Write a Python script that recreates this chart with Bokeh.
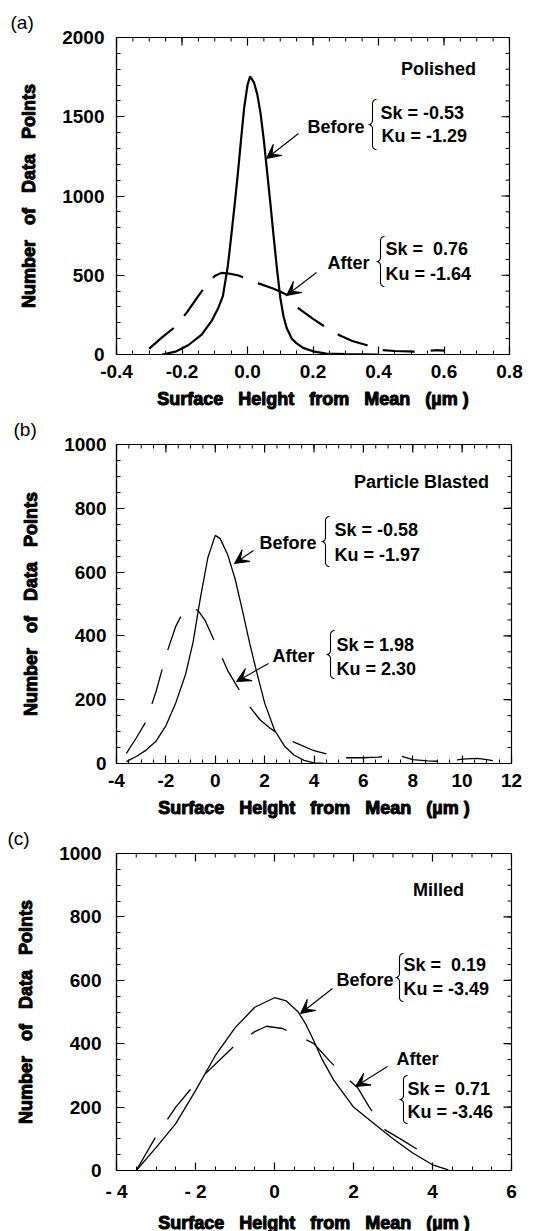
import numpy as np
from bokeh.plotting import figure
from bokeh.layouts import column
from bokeh.models import (Label, Arrow, VeeHead, SingleIntervalTicker,
                          PrintfTickFormatter, Range1d)
from bokeh.embed import file_html
from bokeh.resources import INLINE

# ---------------- data ----------------
# (a) Polished
A_X_BEFORE = [-0.26, -0.22, -0.18, -0.14, -0.11, -0.09, -0.075, -0.06, -0.05, -0.04, -0.03, -0.02,
              -0.01, 0.0, 0.008, 0.02, 0.03, 0.04, 0.05, 0.06, 0.07, 0.08, 0.09, 0.10, 0.11, 0.12,
              0.135, 0.15, 0.17, 0.20, 0.24, 0.30, 0.40]
A_Y_BEFORE = [0, 18, 60, 125, 210, 290, 370, 560, 740, 930, 1130, 1350,
              1560, 1700, 1755, 1715, 1640, 1520, 1350, 1150, 950, 740, 540, 360, 240, 165,
              100, 70, 42, 20, 6, 2, 0]
A_X_AFTER = [-0.30, -0.26, -0.22, -0.185, -0.15, -0.12, -0.10, -0.08, -0.06, -0.03, 0.0, 0.036,
             0.08, 0.117, 0.14, 0.157, 0.20, 0.233, 0.26, 0.284, 0.32, 0.365, 0.40, 0.45, 0.51,
             0.55, 0.575, 0.60]
A_Y_AFTER = [37, 110, 176, 266, 370, 455, 495, 515, 512, 500, 478, 447,
             415, 380, 330, 290, 225, 180, 145, 118, 85, 58, 30, 22, 18,
             22, 27, 25]

# (b) Particle Blasted
B_X_BEFORE = [-3.6, -3.2, -2.8, -2.4, -2.0, -1.6, -1.2, -0.9, -0.6, -0.3, 0.0, 0.2, 0.5, 0.8,
              1.1, 1.4, 1.7, 2.0, 2.4, 2.8, 3.2, 3.6, 4.0, 4.4]
B_Y_BEFORE = [6, 22, 42, 70, 118, 190, 280, 380, 520, 645, 715, 705, 655, 580,
              480, 375, 280, 190, 105, 55, 26, 10, 2, 0]
B_X_AFTER = [-3.6, -3.2, -2.8, -2.4, -2.0, -1.6, -1.3, -1.0, -0.7, -0.4, -0.1, 0.2, 0.5, 0.8,
             1.1, 1.4, 1.8, 2.2, 2.6, 3.0, 3.4, 4.0, 4.6, 5.3, 6.0, 6.6, 7.4, 8.0, 8.6, 9.4,
             10.0, 10.6, 11.0, 11.6]
B_Y_AFTER = [32, 80, 132, 225, 338, 430, 475, 490, 480, 447, 395, 345, 292, 253,
             214, 178, 138, 112, 90, 73, 60, 40, 28, 18, 18, 20, 26, 12, 8, 6,
             14, 16, 12, 5]

# (c) Milled
C_X_BEFORE = [-3.5, -3.0, -2.5, -2.0, -1.5, -1.0, -0.5, 0.0, 0.3, 0.6, 0.8, 1.0, 1.2, 1.5,
              2.0, 2.5, 3.0, 3.5, 4.0, 4.4]
C_Y_BEFORE = [0, 72, 148, 252, 362, 450, 515, 545, 535, 500, 460, 408, 352, 285,
              200, 150, 100, 55, 18, 2]
C_X_AFTER = [-3.5, -3.0, -2.5, -2.0, -1.5, -1.0, -0.5, -0.2, 0.2, 0.6, 1.0, 1.4, 1.8, 2.1,
             2.4, 2.8, 3.25, 3.6, 4.05]
C_Y_AFTER = [0, 108, 200, 275, 335, 395, 438, 455, 448, 425, 400, 345, 295, 262,
             200, 128, 95, 68, 37]

C_TICK_LABELS = {-4: "- 4", -2: "- 2"}

FONT = "Liberation Sans"
TICK_FS = "19px"
ANN_FS = "18px"
TITLE_FS = "18px"
GAP = " \u00a0\u00a0"
X_TITLE = GAP.join(["Surface", "Height", "from", "Mean", "(µm )"])
Y_TITLE = GAP.join(["Number", "of", "Data", "Points"])


def px2d(g, px, py):
    """Convert a position given in the panel's frame pixels to data units (annotations only)."""
    x0, x1 = g["xr"]
    y0, y1 = g["yr"]
    x = x0 + (px - g["left"]) * (x1 - x0) / (g["right"] - g["left"])
    y = y0 + (g["bottom"] - py) * (y1 - y0) / (g["bottom"] - g["top"])
    return x, y


def tick_values(lo, hi, step):
    n = int(round((hi - lo) / step))
    return [lo + i * step for i in range(n + 1)]


def make_panel(g, x_int, y_int, x_fmt="%d", x_over=None):
    p = figure(frame_width=g["right"] - g["left"], frame_height=g["bottom"] - g["top"],
               x_range=Range1d(*g["xr"]), y_range=Range1d(*g["yr"]),
               output_backend="svg", toolbar_location=None,
               min_border_left=g["left"], min_border_right=542 - g["right"],
               min_border_top=g["mbt"], min_border_bottom=0)
    p.xgrid.visible = False
    p.ygrid.visible = False
    p.outline_line_color = "black"
    p.outline_line_width = 1.2
    p.background_fill_color = "white"
    p.border_fill_color = "white"

    xt = SingleIntervalTicker(interval=x_int, num_minor_ticks=4)
    yt = SingleIntervalTicker(interval=y_int, num_minor_ticks=g["ymin"])

    for ax in (p.xaxis[0], p.yaxis[0]):
        ax.axis_line_color = "black"
        ax.axis_line_width = 1.2
        ax.major_tick_in = 8
        ax.major_tick_out = 0
        ax.minor_tick_in = 4
        ax.minor_tick_out = 0
        ax.major_tick_line_color = "black"
        ax.minor_tick_line_color = "black"
        ax.major_tick_line_width = 1.2
        ax.minor_tick_line_width = 1
        ax.major_label_text_font = FONT
        ax.major_label_text_font_size = TICK_FS
        ax.major_label_text_font_style = "bold"
        ax.major_label_text_color = "black"
        ax.axis_label_text_font = FONT
        ax.axis_label_text_font_size = TITLE_FS
        ax.axis_label_text_font_style = "bold"
        ax.axis_label_text_color = "black"
        if "axis_label_text_outline_color" in ax.properties():
            ax.axis_label_text_outline_color = "black"

    xa = p.xaxis[0]
    xa.ticker = xt
    xa.axis_label = X_TITLE
    xa.major_label_standoff = 10
    xa.axis_label_standoff = 8
    xa.formatter = PrintfTickFormatter(format=x_fmt)
    if x_over:
        xa.major_label_overrides = x_over

    ya = p.yaxis[0]
    ya.ticker = yt
    ya.formatter = PrintfTickFormatter(format="%d")
    ya.axis_label = Y_TITLE
    ya.major_label_standoff = g["ystand"]
    ya.axis_label_standoff = 20

    # mirrored inward ticks on top and right sides
    x0, x1 = g["xr"]
    y0, y1 = g["yr"]
    fw = g["right"] - g["left"]
    fh = g["bottom"] - g["top"]
    dy_maj, dy_min = 8 * (y1 - y0) / fh, 4 * (y1 - y0) / fh
    dx_maj, dx_min = 8 * (x1 - x0) / fw, 4 * (x1 - x0) / fw
    xmaj = tick_values(x0, x1, x_int)
    xmin = tick_values(x0, x1, x_int / 4.0)
    ymaj = tick_values(y0, y1, y_int)
    ymin = tick_values(y0, y1, y_int / float(g["ymin"]))
    p.segment(xmaj, [y1] * len(xmaj), xmaj, [y1 - dy_maj] * len(xmaj),
              line_color="black", line_width=1.2)
    p.segment(xmin, [y1] * len(xmin), xmin, [y1 - dy_min] * len(xmin),
              line_color="black", line_width=1)
    p.segment([x1] * len(ymaj), ymaj, [x1 - dx_maj] * len(ymaj), ymaj,
              line_color="black", line_width=1.2)
    p.segment([x1] * len(ymin), ymin, [x1 - dx_min] * len(ymin), ymin,
              line_color="black", line_width=1)

    # panel letter as the figure title
    p.title.text = g["letter"]
    p.title.align = "left"
    p.title.offset = 7 - g["left"]
    p.title.standoff = 10
    p.title.text_font = FONT
    p.title.text_font_size = "19px"
    p.title.text_font_style = "normal"
    p.title.text_color = "black"
    return p


def add_text(p, g, px, py, text, align):
    x, y = px2d(g, px, py)
    p.add_layout(Label(x=x, y=y, text=text, text_font=FONT, text_font_size=ANN_FS,
                       text_font_style="bold",
                       text_align=align, text_baseline="middle", text_color="black"))


def add_brace(p, g, cx, cy, h, w=8):
    r = w / 2.0
    top, bot = cy - h / 2.0, cy + h / 2.0
    pts = []

    def arc(ccx, ccy, a0, a1):
        t = np.radians(np.linspace(a0, a1, 10))
        return list(zip(ccx + r * np.cos(t), ccy + r * np.sin(t)))
    pts += arc(cx + r, top + r, -90, -180)
    pts += arc(cx - r, cy - r, 0, 90)
    pts += arc(cx - r, cy + r, -90, 0)
    pts += arc(cx + r, bot - r, 180, 90)
    xs, ys = zip(*[px2d(g, a, b) for a, b in pts])
    p.line(list(xs), list(ys), line_color="black", line_width=1.1)


def add_arrow(p, g, tail, tip):
    x0, y0 = px2d(g, *tail)
    x1, y1 = px2d(g, *tip)
    p.add_layout(Arrow(x_start=x0, y_start=y0, x_end=x1, y_end=y1, line_color="black",
                       line_width=1.1,
                       end=VeeHead(size=14, fill_color="black", line_color="black",
                                   line_width=1)))


# Frame geometry (page pixels) used only to place the annotations.
# ---------------- panel (a) ----------------
GA = dict(mbt=37, left=113, right=506, top=37, bottom=354,
          xr=(-0.4, 0.8), yr=(0, 2000), ymin=5, letter="(a)", ystand=12)
pa = make_panel(GA, 0.2, 500, x_fmt="%.1f")
pa.line(A_X_BEFORE, A_Y_BEFORE, line_color="black", line_width=2.2)
pa.line(A_X_AFTER, A_Y_AFTER, line_color="black", line_width=2.2, line_dash="32 16")
add_text(pa, GA, 435, 68, "Polished", "center")
add_text(pa, GA, 361, 126, "Before", "right")
add_brace(pa, GA, 369, 124, 50)
add_text(pa, GA, 377, 112, "Sk = -0.53", "left")
add_text(pa, GA, 378, 135, "Ku = -1.29", "left")
add_arrow(pa, GA, (295, 133), (263, 158))
add_text(pa, GA, 366, 262, "After", "right")
add_brace(pa, GA, 377, 261, 50)
add_text(pa, GA, 382, 248, "Sk =\u00a0 0.76", "left")
add_text(pa, GA, 382, 273, "Ku = -1.64", "left")
add_arrow(pa, GA, (313, 272), (283, 295))

# ---------------- panel (b) ----------------
GB = dict(mbt=0, left=110, right=505, top=443, bottom=762,
          xr=(-4, 12), yr=(0, 1000), ymin=4, letter="(b)", ystand=10)
pb = make_panel(GB, 2, 200)
pb.line(B_X_BEFORE, B_Y_BEFORE, line_color="black", line_width=1.3)
pb.line(B_X_AFTER, B_Y_AFTER, line_color="black", line_width=1.3, line_dash="36 20")
add_text(pb, GB, 415, 480, "Particle Blasted", "center")
add_text(pb, GB, 310, 541, "Before", "right")
add_brace(pb, GB, 319, 540, 50)
add_text(pb, GB, 328, 528, "Sk = -0.58", "left")
add_text(pb, GB, 328, 553, "Ku = -1.97", "left")
add_arrow(pb, GB, (247, 549), (228, 562))
add_text(pb, GB, 308, 654, "After", "right")
add_brace(pb, GB, 324, 653, 48)
add_text(pb, GB, 330, 643, "Sk = 1.98", "left")
add_text(pb, GB, 330, 667, "Ku = 2.30", "left")
add_arrow(pb, GB, (262, 662), (230, 680))

# ---------------- panel (c) ----------------
GC = dict(mbt=0, left=116, right=511, top=852, bottom=1169,
          xr=(-4, 6), yr=(0, 1000), ymin=4, letter="(c)", ystand=15)
pc = make_panel(GC, 2, 200, x_over=C_TICK_LABELS)
pc.line(C_X_BEFORE, C_Y_BEFORE, line_color="black", line_width=1.3)
pc.line(C_X_AFTER, C_Y_AFTER, line_color="black", line_width=1.3, line_dash="38 22")
add_text(pc, GC, 438, 888, "Milled", "center")
add_text(pc, GC, 393, 978, "Before", "right")
add_brace(pc, GC, 399, 976, 48)
add_text(pc, GC, 403, 963, "Sk =\u00a0 0.19", "left")
add_text(pc, GC, 403, 987, "Ku = -3.49", "left")
add_arrow(pc, GC, (332, 987), (300, 1012))
add_text(pc, GC, 396, 1057, "After", "left")
add_brace(pc, GC, 403, 1098, 48)
add_text(pc, GC, 407, 1087, "Sk =\u00a0 0.71", "left")
add_text(pc, GC, 407, 1110, "Ku = -3.46", "left")
add_arrow(pc, GC, (387, 1065), (355, 1085))

layout = column(pa, pb, pc, spacing=0)
open("out.html", "w").write(file_html(layout, INLINE))
